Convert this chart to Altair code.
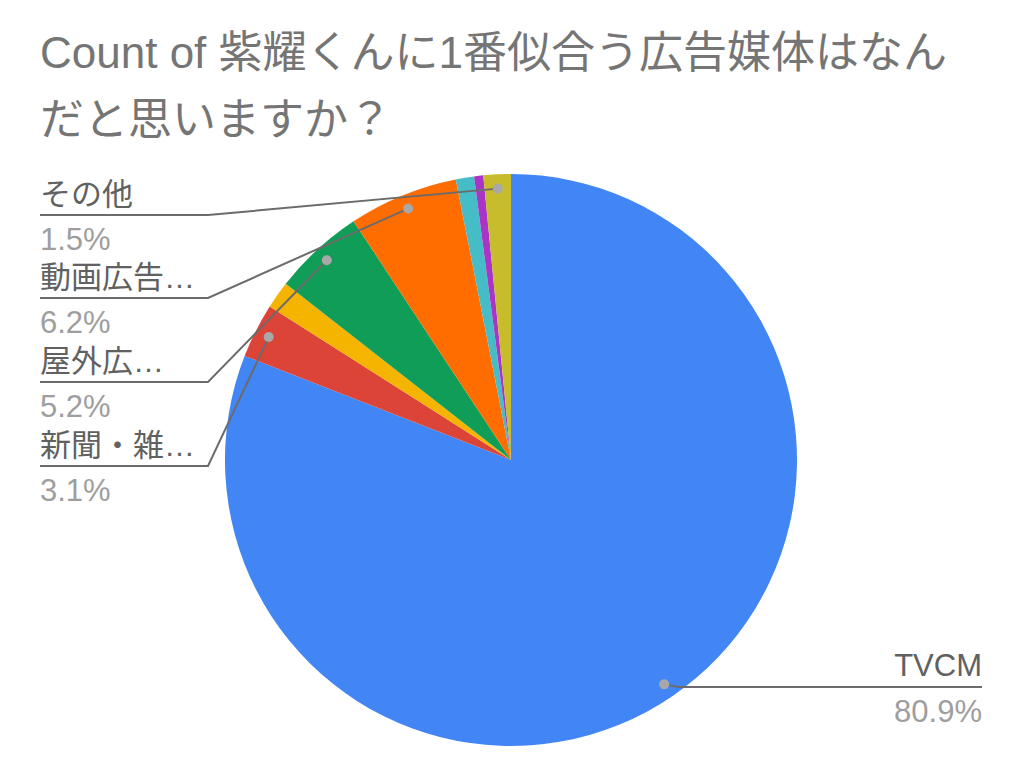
import math
import altair as alt
import pandas as pd

# ---- data ----
categories = ["TVCM", "新聞・雑誌広告", "ラジオCM", "屋外広告", "動画広告", "SNS広告", "ポスター", "その他"]
counts = [157, 6, 3, 10, 12, 2, 1, 3]
colors = ["#4285f4", "#db4437", "#f4b400", "#0f9d58", "#ff6d01", "#46bdc6", "#a935c6", "#c6bc2c"]
label_text = ["TVCM", "新聞・雑…", None, "屋外広…", "動画広告…", None, None, "その他"]
title_lines = ["Count of 紫耀くんに1番似合う広告媒体はなん", "だと思いますか？"]

# ---- layout (plot coordinates) ----
W, H = 1008, 760
CX, CY, R = 503, 452, 286
FONT = "'Liberation Sans', 'Noto Sans CJK JP', sans-serif"
LEFT_X, LEFT_ELBOW = 32, 200
LEFT_UNDER = {"その他": 207, "動画広告…": 290, "屋外広…": 374, "新聞・雑…": 458}
RIGHT_X, RIGHT_UNDER = 974, 679

total = sum(counts)
df = pd.DataFrame({"cat": categories, "count": counts, "idx": range(len(counts))})

# derived: mid angle of each slice -> dot positions
rows_dot, rows_line, rows_name, rows_pct = [], [], [], []
cum = 0
for i, (c, n) in enumerate(zip(categories, counts)):
    mid = (cum + n / 2) / total * 2 * math.pi
    cum += n
    lab = label_text[i]
    if lab is None:
        continue
    ux, uy = 0.95 * math.sin(mid), 0.95 * math.cos(mid)
    pct = f"{n / total * 100:.1f}%"
    rows_dot.append({"ux": ux, "uy": uy})
    if lab in LEFT_UNDER:
        yu = LEFT_UNDER[lab]
        pts = [(ux, uy), ((LEFT_ELBOW - CX) / R, (CY - yu) / R), ((LEFT_X - CX) / R, (CY - yu) / R)]
        rows_name.append({"t": lab, "px": LEFT_X, "py": yu - 10, "al": "left"})
        rows_pct.append({"t": pct, "px": LEFT_X, "py": yu + 35, "al": "left"})
    else:
        yu = RIGHT_UNDER
        pts = [(ux, uy), (ux + 0.05, (CY - yu) / R), ((RIGHT_X - CX) / R, (CY - yu) / R)]
        rows_name.append({"t": lab, "px": RIGHT_X, "py": yu - 11, "al": "right"})
        rows_pct.append({"t": pct, "px": RIGHT_X, "py": yu + 35, "al": "right"})
    for k, (a, b) in enumerate(pts):
        rows_line.append({"lab": lab, "k": k, "ux": a, "uy": b})

xs = alt.Scale(domain=[-1, 1], range=[CX - R, CX + R])
ys = alt.Scale(domain=[-1, 1], range=[CY + R, CY - R])

pie = alt.Chart(df).mark_arc(radius=R).encode(
    theta=alt.Theta("count:Q", stack=True),
    order=alt.Order("idx:Q"),
    color=alt.Color("cat:N", scale=alt.Scale(domain=categories, range=colors), legend=None),
    x=alt.value(CX),
    y=alt.value(CY),
)

lines = alt.Chart(pd.DataFrame(rows_line)).mark_line(color="#6b6b6b", strokeWidth=2).encode(
    x=alt.X("ux:Q", scale=xs, axis=None),
    y=alt.Y("uy:Q", scale=ys, axis=None),
    detail="lab:N",
    order="k:Q",
)

dots = alt.Chart(pd.DataFrame(rows_dot)).mark_point(filled=True, size=100, color="#a8a8a8", opacity=1).encode(
    x=alt.X("ux:Q", scale=xs, axis=None),
    y=alt.Y("uy:Q", scale=ys, axis=None),
)

def text_layer(rows, size, color):
    d = pd.DataFrame(rows)
    layers = []
    for al in ["left", "right"]:
        sub = d[d["al"] == al]
        if len(sub) == 0:
            continue
        layers.append(
            alt.Chart(sub).mark_text(align=al, baseline="alphabetic", fontSize=size, color=color, font=FONT).encode(
                x=alt.X("px:Q", scale=None), y=alt.Y("py:Q", scale=None), text="t:N"
            )
        )
    return layers

names = text_layer(rows_name, 31, "#616161")
pcts = text_layer(rows_pct, 31, "#9e9e9e")

title_df = pd.DataFrame({"t": title_lines, "py": [60, 127], "px": [32, 32]})
title = alt.Chart(title_df).mark_text(align="left", baseline="alphabetic", fontSize=44, color="#757575", font=FONT).encode(
    x=alt.X("px:Q", scale=None), y=alt.Y("py:Q", scale=None), text="t:N"
)

chart = alt.layer(pie, lines, dots, *names, *pcts, title).resolve_scale(x="independent", y="independent").properties(
    width=W, height=H, padding=0, autosize="none"
).configure_view(stroke=None)

chart.save("out.html", embed_options={"renderer": "svg", "actions": False})
